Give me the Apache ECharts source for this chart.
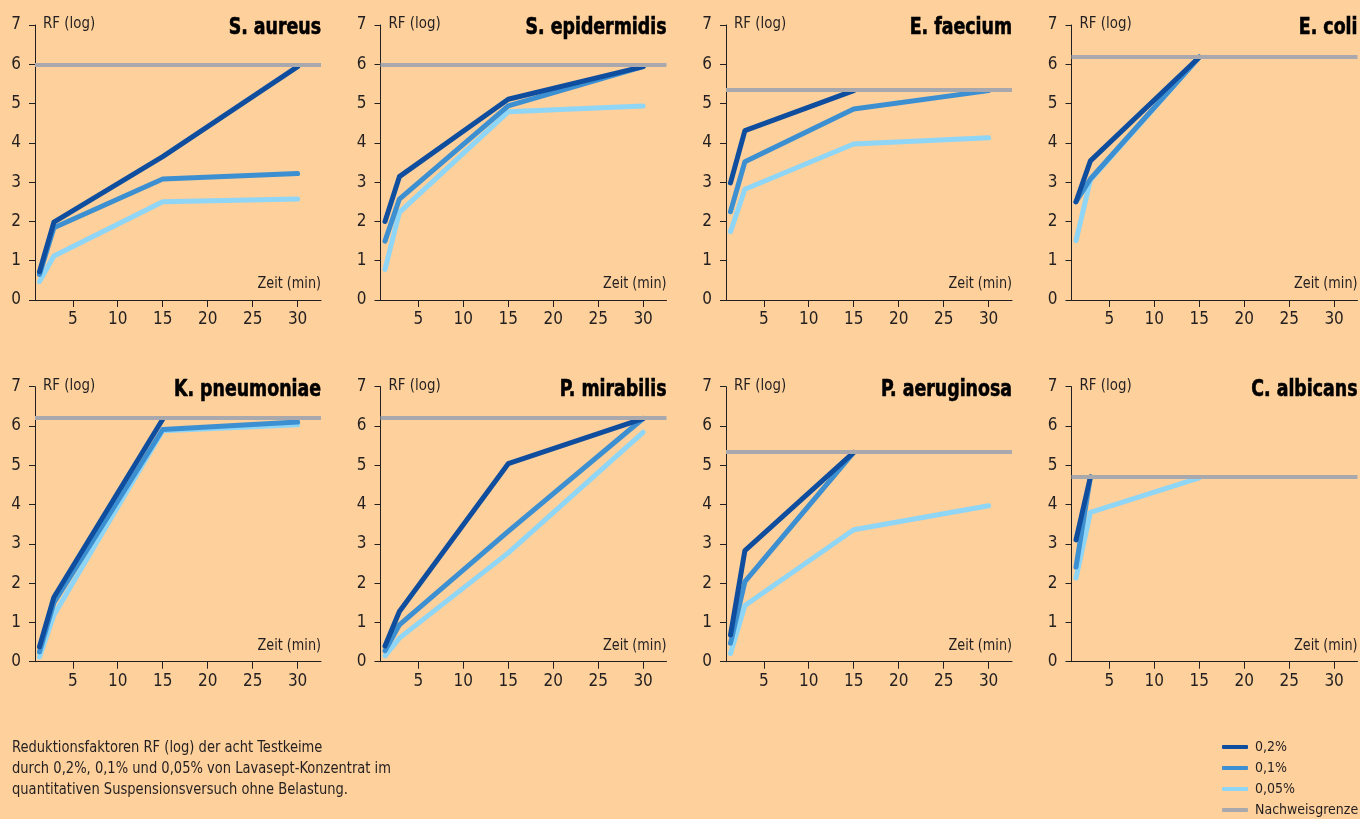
<!DOCTYPE html>
<html>
<head>
<meta charset="utf-8">
<script src="https://cdn.jsdelivr.net/npm/echarts@6/dist/echarts.min.js"></script>
<style>
html,body{margin:0;padding:0;background:#FDD09C;}
#c{width:1360px;height:819px;}
</style>
</head>
<body>
<div id="c"></div>
<script>
// ---- data ----
const species = ['S. aureus','S. epidermidis','E. faecium','E. coli','K. pneumoniae','P. mirabilis','P. aeruginosa','C. albicans'];
const times = [1.3, 2.9, 15, 30];
const xTicks = [5, 10, 15, 20, 25, 30];
const rf02 = [
  [0.72, 1.98, 3.65, 5.94],
  [2.0, 3.14, 5.11, 5.94],
  [2.98, 4.31, 5.33, null],
  [2.5, 3.54, 6.18, null],
  [0.38, 1.64, 6.17, null],
  [0.4, 1.28, 5.04, 6.19],
  [0.68, 2.83, 5.33, null],
  [3.1, 4.7, null, null]
];
const rf01 = [
  [0.65, 1.84, 3.08, 3.22],
  [1.5, 2.57, 4.94, 5.94],
  [2.25, 3.52, 4.86, 5.33],
  [2.5, 3.08, 6.18, null],
  [0.25, 1.5, 5.91, 6.1],
  [0.28, 0.94, 3.32, 6.19],
  [0.47, 2.04, 5.33, null],
  [2.41, 4.7, null, null]
];
const rf005 = [
  [0.47, 1.12, 2.5, 2.57],
  [0.78, 2.23, 4.79, 4.94],
  [1.74, 2.82, 3.97, 4.13],
  [1.51, 3.05, 6.18, null],
  [0.12, 1.19, 5.88, 6.03],
  [0.15, 0.6, 2.77, 5.84],
  [0.21, 1.43, 3.36, 3.97],
  [2.13, 3.8, 4.68, null]
];
const limits = [6.0, 6.0, 5.35, 6.2, 6.2, 6.2, 5.35, 4.7];
const seriesNames = ['0,2%', '0,1%', '0,05%', 'Nachweisgrenze'];
const caption = 'Reduktionsfaktoren RF (log) der acht Testkeime\ndurch 0,2%, 0,1% und 0,05% von Lavasept-Konzentrat im\nquantitativen Suspensionsversuch ohne Belastung.';

// ---- style ----
const FONT = '"Liberation Sans Narrow", "DejaVu Sans Condensed", "Arial Narrow", "Liberation Sans", sans-serif';
const TXT = '#231F20';
const COLORS = {'0,2%': '#0F4E9E', '0,1%': '#3C8FD1', '0,05%': '#8FD5F5', 'Nachweisgrenze': '#A9A8AC'};
const LEFT0 = 35, STEP = 345.5, W = 286, H = 275;
const TOPS = [25, 386.7];

function pts(arr) {
  const out = [];
  arr.forEach((v, i) => { if (v !== null) out.push([times[i], v]); });
  return out;
}

const grids = [], xAxes = [], yAxes = [], series = [], graphics = [];
species.forEach((name, k) => {
  const col = k % 4, row = Math.floor(k / 4);
  const left = LEFT0 + STEP * col, top = TOPS[row];
  grids.push({left: left, top: top, width: W, height: H, containLabel: false, outerBoundsMode: 'none'});
  xAxes.push({
    type: 'value', gridIndex: k, min: 0.8, max: 32.6,
    axisLine: {show: true, lineStyle: {color: TXT, width: 1}},
    axisTick: {show: true, length: 7, lineStyle: {color: TXT}, customValues: xTicks},
    axisLabel: {color: TXT, fontFamily: FONT, fontSize: 17, margin: 11, customValues: xTicks},
    splitLine: {show: false}
  });
  yAxes.push({
    type: 'value', gridIndex: k, min: 0, max: 7, interval: 1,
    axisLine: {show: true, lineStyle: {color: TXT, width: 1}},
    axisTick: {show: true, length: 6, lineStyle: {color: TXT}},
    axisLabel: {color: TXT, fontFamily: FONT, fontSize: 17, margin: 14},
    splitLine: {show: false}
  });
  series.push({
    name: 'Nachweisgrenze', type: 'line', xAxisIndex: k, yAxisIndex: k, data: [],
    color: COLORS['Nachweisgrenze'], z: 1,
    markLine: {silent: true, symbol: ['none', 'none'], label: {show: false},
      lineStyle: {color: COLORS['Nachweisgrenze'], width: 4, type: 'solid'},
      emphasis: {disabled: true},
      data: [{yAxis: limits[k]}]}
  });
  [['0,05%', rf005], ['0,1%', rf01], ['0,2%', rf02]].forEach(([sn, arr], j) => {
    series.push({
      name: sn, type: 'line', xAxisIndex: k, yAxisIndex: k, data: pts(arr[k]),
      showSymbol: false, symbol: 'none', color: COLORS[sn], z: 2 + j,
      lineStyle: {width: 5, color: COLORS[sn], cap: 'round', join: 'round'},
      emphasis: {disabled: true}
    });
  });
  graphics.push({type: 'text', x: left + W, y: top + 3, scaleX: 0.84,
    style: {text: name, align: 'right', verticalAlign: 'middle', font: 'bold 23px ' + FONT, fill: '#000', stroke: '#000', lineWidth: 0.6}});
  graphics.push({type: 'text', x: left + 8, y: top - 1, scaleX: 0.93,
    style: {text: 'RF (log)', align: 'left', verticalAlign: 'middle', font: '16px ' + FONT, fill: TXT}});
  graphics.push({type: 'text', x: left + W, y: top + H - 16, scaleX: 0.89,
    style: {text: 'Zeit (min)', align: 'right', verticalAlign: 'middle', font: '16px ' + FONT, fill: TXT}});
});
graphics.push({type: 'text', x: 12, y: 738, scaleX: 0.97,
  style: {text: caption, font: '15px ' + FONT, fill: TXT, lineHeight: 21, verticalAlign: 'top'}});

const chart = echarts.init(document.getElementById('c'), null, {renderer: 'canvas'});
chart.setOption({
  backgroundColor: '#FDD09C',
  animation: false,
  grid: grids, xAxis: xAxes, yAxis: yAxes, series: series,
  legend: {
    orient: 'vertical', left: 1222, top: 740, padding: 0,
    data: seriesNames.map(n => ({name: n, itemStyle: {color: COLORS[n]}})),
    icon: 'roundRect', itemWidth: 26, itemHeight: 4, itemGap: 7,
    textStyle: {color: TXT, fontFamily: FONT, fontSize: 14, padding: [0, 0, 0, 2]}
  },
  graphic: graphics
});
</script>
</body>
</html>
